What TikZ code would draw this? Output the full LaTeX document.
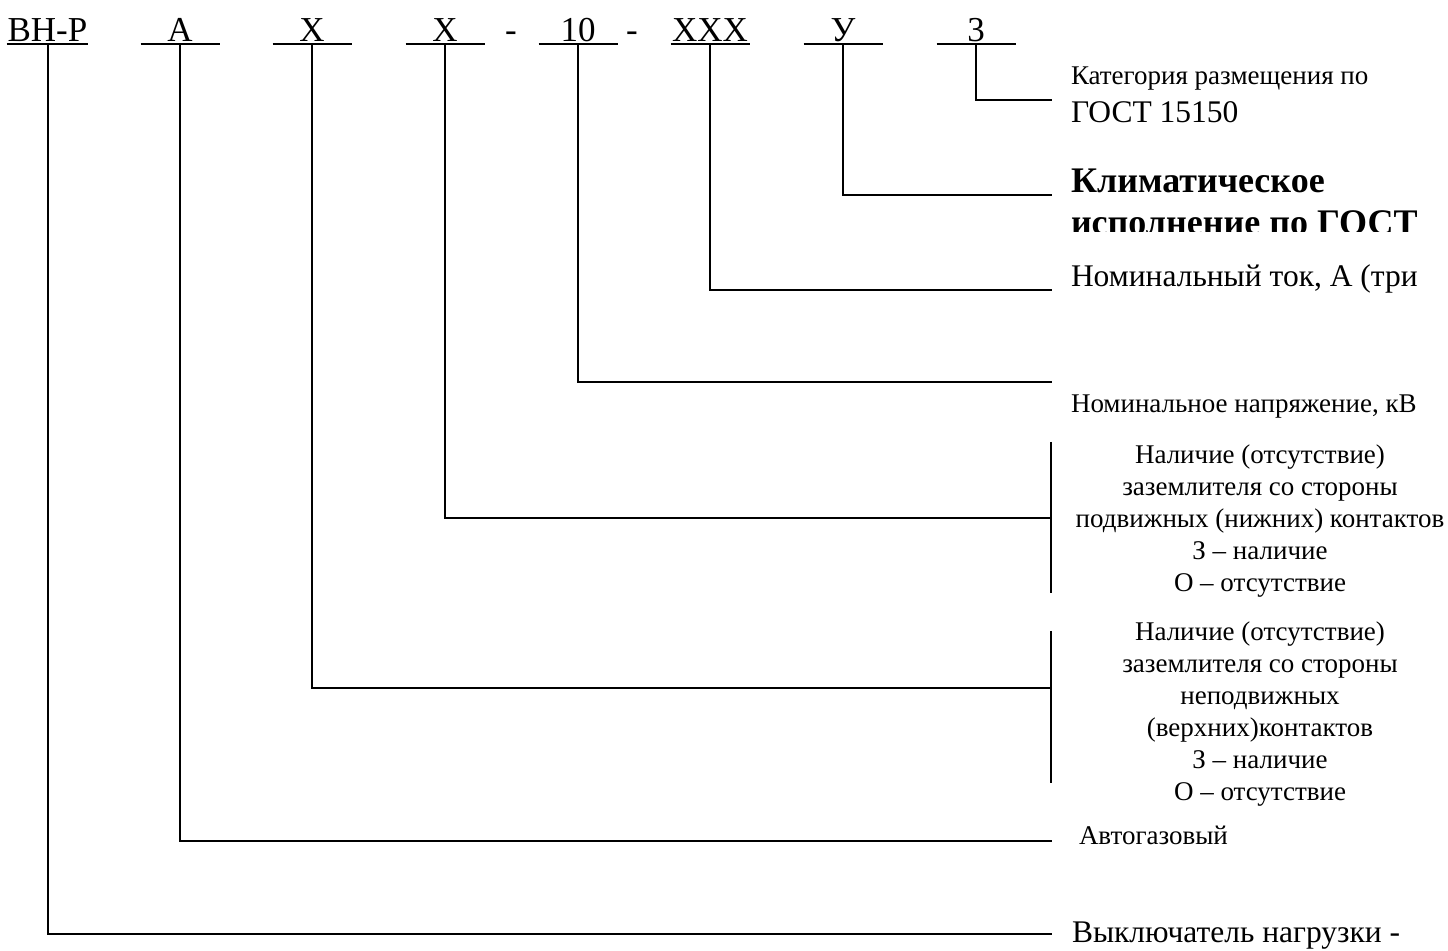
\documentclass[tikz,border=0pt]{standalone}
\usepackage{fontspec}
\setmainfont{Liberation Serif}
\usepackage{tikz}
\usetikzlibrary{positioning}

\tikzset{
  code/.style={font=\fontsize{17.5}{20}\selectfont, inner xsep=0pt, inner ysep=0.5pt, text depth=0pt, minimum width=38.5pt, anchor=base},
  lab/.style={font=\fontsize{13.5}{16}\selectfont, inner sep=0pt, anchor=base west},
  labbig/.style={font=\fontsize{15.75}{18}\selectfont, inner sep=0pt, anchor=base west},
  labbold/.style={font=\fontsize{18}{20}\selectfont\bfseries, inner sep=0pt, anchor=base west},
  block/.style={font=\fontsize{13.5}{16}\selectfont, align=center, inner sep=0pt, anchor=north}
}

\begin{document}
\begin{tikzpicture}[x=0.5pt, y=-0.5pt, line width=1pt]
    \useasboundingbox (0,0) rectangle (1448,951);

    % Code positions
    \node[code] (cVN) at (47.5,42) {ВН-Р};
    \node[code] (cA)  at (180,42) {А};
    \node[code] (cX1) at (312,42) {Х};
    \node[code] (cX2) at (445,42) {Х};
    \node[code, minimum width=0pt] (d1) at (511,42) {-};
    \node[code] (c10) at (578,42) {10};
    \node[code, minimum width=0pt] (d2) at (632,42) {-};
    \node[code] (cI)  at (710,42) {ХХХ};
    \node[code] (cU)  at (843,42) {У};
    \node[code] (c3)  at (976,42) {3};

    % Underlines
    \foreach \n in {cVN,cA,cX1,cX2,c10,cI,cU,c3}
        \draw (\n.south west) -- (\n.south east);

    % Ends of the leaders
    \coordinate (e3)  at (1052,100);
    \coordinate (eU)  at (1052,195);
    \coordinate (eI)  at (1052,290);
    \coordinate (e10) at (1052,382);
    \coordinate (eX2) at (1051,518);
    \coordinate (eX1) at (1051,688);
    \coordinate (eA)  at (1052,841);
    \coordinate (eVN) at (1052,934);

    % Leaders
    \draw (c3.south)  |- (e3);
    \draw (cU.south)  |- (eU);
    \draw (cI.south)  |- (eI);
    \draw (c10.south) |- (e10);
    \draw (cX2.south) |- (eX2);
    \draw (cX1.south) |- (eX1);
    \draw (cA.south)  |- (eA);
    \draw (cVN.south) |- (eVN);

    % Brackets
    \draw (1051,442) -- (1051,593);
    \draw (1051,631) -- (1051,783);

    % Explanations
    \node[lab] (l3) at (1070,85) {Категория размещения по};
    \node[labbig] (l3b) at (1070,123) {ГОСТ 15150};
    \node[labbold] (lU) at (1070,193) {Климатическое};
    \begin{scope}
        \clip (1060,200) rectangle (1448,232);
        \node[labbold] (lUb) at (1070,235) {исполнение по ГОСТ};
    \end{scope}
    \node[labbig] (lI) at (1070,287) {Номинальный ток, А (три};
    \node[lab] (l10) at (1070,413) {Номинальное напряжение, кВ};
    \node[block] (lX2) at (1260,444) {Наличие (отсутствие)\\заземлителя со стороны\\подвижных (нижних) контактов\\З -- наличие\\О -- отсутствие};
    \node[block] (lX1) at (1260,621) {Наличие (отсутствие)\\заземлителя со стороны\\неподвижных\\(верхних)контактов\\З -- наличие\\О -- отсутствие};
    \node[lab] (lA) at (1078,845) {Автогазовый};
    \node[labbig] (lVN) at (1071,943) {Выключатель нагрузки -};
\end{tikzpicture}
\end{document}
